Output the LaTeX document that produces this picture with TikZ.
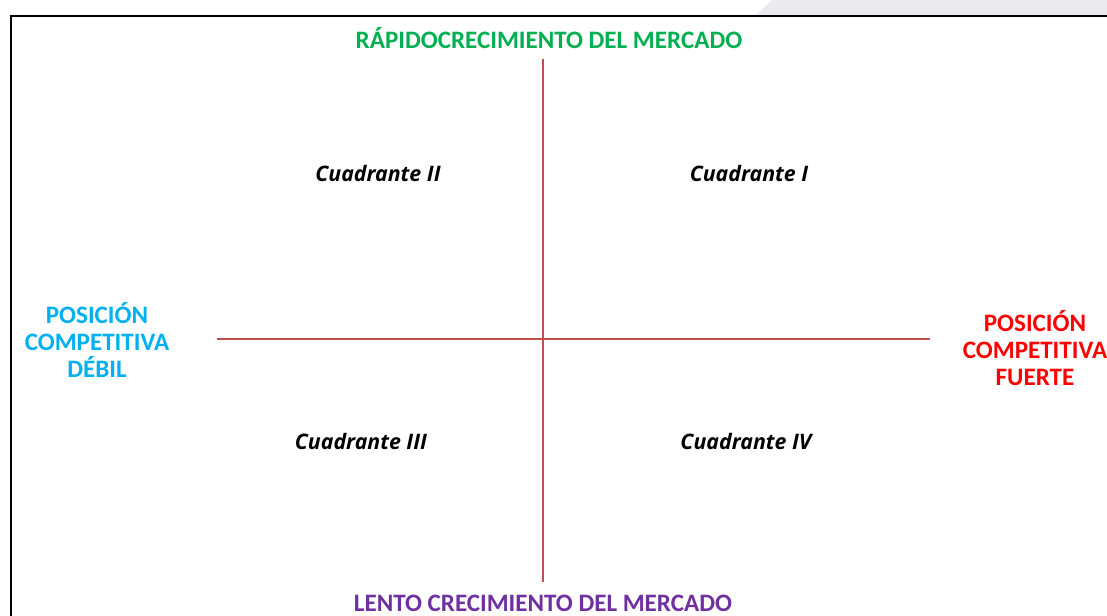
\documentclass[tikz,border=0pt]{standalone}
\usepackage{fontspec}
\setmainfont{Carlito}
\newfontfamily\quadfont{Open Sans}
\definecolor{ejecolor}{HTML}{C0504D}
\definecolor{verdeBCG}{HTML}{00B050}
\definecolor{celeste}{HTML}{00B0F0}
\definecolor{morado}{HTML}{7030A0}
\definecolor{fondogris}{HTML}{EBEBEF}
\begin{document}
\begin{tikzpicture}[x=0.75pt, y=-0.75pt,
	eje/.style={ejecolor, line width=1.1pt},
	titulo/.style={font=\fontsize{18.8}{20.3}\selectfont\bfseries, align=center, inner sep=0pt},
	cuadrante/.style={font=\quadfont\fontsize{16}{19}\selectfont\bfseries\itshape, inner sep=0pt}]
	\useasboundingbox (0,0) rectangle (1107,616);
	\fill[white] (0,0) rectangle (1107,616);
	\fill[fondogris] (755,16) -- (772,0) -- (1107,0) -- (1107,16) -- cycle;
	\draw[line width=1.5pt] (11,616) -- (11,16) -- (1107,16);
	% ejes
	\coordinate (arriba) at (543,59);
	\coordinate (abajo) at (543,582);
	\coordinate (izq) at (217,339);
	\coordinate (der) at (930,339);
	\draw[eje] (arriba) -- (abajo);
	\draw[eje] (izq) -- (der);
	% textos de los ejes
	\node[titulo, text=verdeBCG] (rapido) at (549,38) {RÁPIDOCRECIMIENTO DEL MERCADO};
	\node[titulo, text=morado] (lento) at (543,603) {LENTO CRECIMIENTO DEL MERCADO};
	\node[titulo, text=celeste] (debil) at (97,340) {POSICIÓN\\COMPETITIVA\\DÉBIL};
	\node[titulo, text=red] (fuerte) at (1035,348) {POSICIÓN\\COMPETITIVA\\FUERTE};
	% cuadrantes
	\node[cuadrante] (c2) at (378,174) {Cuadrante II};
	\node[cuadrante] (c1) at (749,174) {Cuadrante I};
	\node[cuadrante] (c3) at (361,442) {Cuadrante III};
	\node[cuadrante] (c4) at (746,442) {Cuadrante IV};
\end{tikzpicture}
\end{document}
